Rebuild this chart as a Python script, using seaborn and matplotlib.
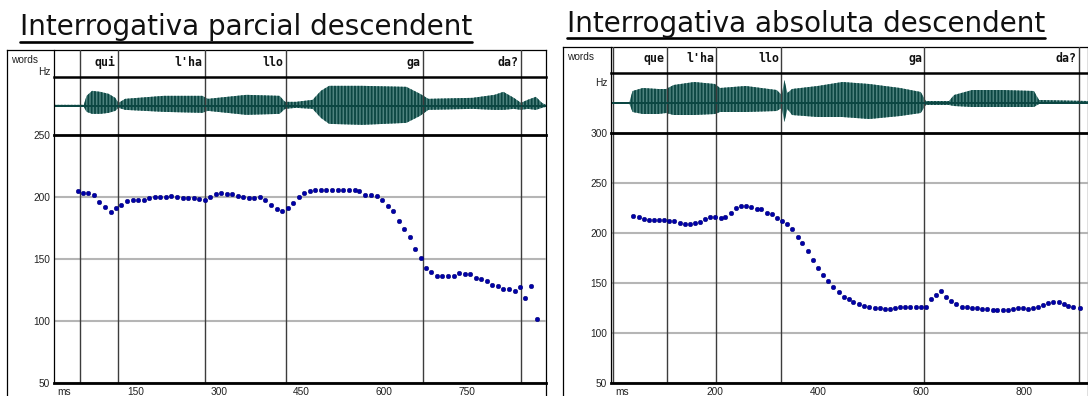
import matplotlib
matplotlib.use("Agg")
import seaborn as sns
import matplotlib.pyplot as plt
from matplotlib.lines import Line2D

# --- Interrogativa parcial descendent ---
parcial_title = "Interrogativa parcial descendent"
parcial_words = ["qui", "l'ha", "llo", "ga", "da?"]
parcial_bounds = [48, 117, 274, 422, 670, 848]
parcial_ms = [44, 54, 63, 73, 83, 93, 104, 114, 123, 134, 144, 154, 164, 174, 184, 194,
              204, 214, 224, 234, 244, 254, 264, 274, 284, 294, 304, 314, 324, 334, 344,
              354, 364, 374, 384, 394, 405, 415, 425, 435, 445, 455, 465, 475, 485, 495,
              506, 516, 526, 536, 546, 555, 565, 576, 586, 596, 606, 616, 626, 636, 646,
              656, 666, 675, 685, 695, 705, 716, 726, 736, 746, 756, 766, 776, 786, 796,
              806, 816, 827, 837, 846, 856, 866, 877]
parcial_hz = [204.6, 203.5, 203.5, 201.4, 196, 192, 188, 191, 194, 197, 198, 198, 198,
              199.5, 200.3, 200.3, 200.3, 201, 200.3, 199, 199, 199, 198.6, 198, 200,
              202.4, 203.2, 202.7, 202.4, 201, 200, 199, 199, 200.3, 198, 194, 190.5,
              189, 191.6, 195.4, 200.3, 203.5, 205, 206, 206, 206, 206, 206, 206, 206,
              206, 204.6, 202, 201.4, 200.5, 197.3, 193, 188.4, 181, 174, 168, 158, 151,
              143, 140, 136.8, 136.8, 136.8, 136.8, 139, 138, 138, 135, 133.7, 132, 129.5,
              128.4, 126.3, 125.8, 124.7, 127.4, 118.4, 128, 101.8]
parcial_ticks = [150, 300, 450, 600, 750]
parcial_wave_ms = [0, 55, 60, 70, 85, 100, 112, 118, 130, 200, 270, 280, 350, 410, 420,
                   440, 470, 485, 500, 560, 640, 665, 680, 760, 800, 816, 835, 848, 860,
                   875, 886, 893]
parcial_wave_up = [1, 1, 10, 15, 14, 12, 8, 3, 7, 10, 10, 7, 11, 10, 4, 4, 6, 15, 20, 20,
                   19, 12, 7, 8, 11, 14, 8, 3, 6, 9, 3, 1]
parcial_wave_dn = [1, 1, 6, 8, 8, 7, 5, 2, 4, 6, 7, 5, 9, 8, 3, 2, 3, 12, 18, 19, 17, 10,
                   4, 3, 4, 4, 3, 4, 3, 4, 2, 1]

# --- Interrogativa absoluta descendent ---
absoluta_title = "Interrogativa absoluta descendent"
absoluta_words = ["que", "l'ha", "llo", "ga", "da?"]
absoluta_bounds = [2.5, 107, 203, 329, 607, 908]
absoluta_ms = [41, 52, 62, 72, 82, 92, 102, 111, 120, 132, 142, 151, 161, 171, 181, 191,
               200, 211, 220, 231, 241, 251, 261, 271, 281, 290, 301, 311, 320, 331, 341,
               350, 361, 370, 381, 390, 400, 410, 420, 430, 441, 450, 460, 469, 480, 490,
               500, 511, 520, 530, 540, 550, 560, 570, 580, 590, 600, 610, 620, 630, 640,
               649, 659, 669, 680, 690, 700, 710, 720, 729, 740, 749, 760, 769, 779, 789,
               799, 809, 819, 828, 838, 848, 858, 868, 878, 887, 897, 910]
absoluta_hz = [217.8, 216.4, 214.8, 213.8, 213.8, 213.8, 213.8, 212.8, 212.8, 210.2,
               208.9, 208.9, 210.2, 211.8, 214.1, 216.4, 216.8, 215.5, 216.4, 220.4,
               225.3, 227.6, 227.6, 226.6, 224, 224, 220, 219.1, 215.1, 212.8, 209.2,
               204.3, 196.7, 190.1, 181.9, 173.6, 165.5, 157.9, 152.6, 146.4, 141.4,
               136.8, 133.9, 130.9, 128.9, 127.6, 126.3, 125.3, 125.3, 124.3, 124.3,
               125.3, 126.6, 126.6, 126.6, 126.6, 126.6, 126.6, 133.9, 138.8, 142.8,
               136.8, 131.9, 128.9, 126.6, 126.6, 125.3, 125.3, 124.3, 124.3, 123.7, 123,
               123, 123.7, 124.7, 125.3, 125.3, 124.7, 125.3, 126.6, 128, 129.9, 131.3,
               131.3, 128.9, 127.6, 126.3, 125.3]
absoluta_ticks = [200, 400, 600, 800]
absoluta_wave_ms = [0, 34, 40, 60, 90, 105, 120, 160, 200, 210, 260, 320, 330, 335, 341,
                    350, 400, 448, 500, 560, 600, 610, 655, 665, 700, 760, 820, 830, 925]
absoluta_wave_up = [1, 1, 12, 15, 14, 14, 18, 21, 19, 15, 17, 13, 8, 23, 10, 14, 17, 21,
                    19, 15, 11, 2, 2, 8, 13, 13, 12, 3, 2]
absoluta_wave_dn = [1, 1, 9, 11, 11, 10, 12, 12, 11, 9, 9, 8, 5, 19, 6, 12, 14, 14, 16,
                    13, 10, 2, 2, 3, 4, 4, 4, 1, 1]

W, H = 1088, 396
sns.set_style("white")
plt.rcParams["font.family"] = ["DejaVu Sans"]
plt.rcParams["hatch.linewidth"] = 1.3

fig = plt.figure(figsize=(W / 100, H / 100), dpi=100)
fig.patch.set_facecolor("white")

WAVE_COL = "#0b4642"
WAVE_LIGHT = "#4f837f"
DOT_COL = "#0000a8"
BOUND_COL = "#3c3c3c"
GRID_COL = "#b5b5b5"
SMALL = dict(family="Liberation Sans", fontsize=7.3, color="#222222")


def add_ax(x0, y0, x1, y1, z=1):
    ax = fig.add_axes([x0 / W, 1 - y1 / H, (x1 - x0) / W, (y1 - y0) / H], zorder=z)
    ax.set_facecolor("none")
    return ax


def bare(ax):
    ax.set_xticks([])
    ax.set_yticks([])
    for s in ax.spines.values():
        s.set_visible(False)


def draw_panel(title, title_xy, words, bounds, ms, hz, ticks, wave_ms, wave_up, wave_dn,
               frame_x, top, left, right, sep1, sep2, bottom, x0_ms, px_ms, ylim,
               hz_y):
    xlim = (x0_ms, x0_ms + (right - left) / px_ms)

    # title, underlined
    t = fig.text(title_xy[0] / W, 1 - title_xy[1] / H, title, fontsize=20,
                 va="baseline", ha="left", color="#111111")
    fig.canvas.draw()
    bb = t.get_window_extent()
    uy = title_xy[1] + 6.5
    fig.add_artist(Line2D([bb.x0 / W, bb.x1 / W], [1 - uy / H, 1 - uy / H],
                          transform=fig.transFigure, color="black", lw=1.9))

    # outer frame
    frame = add_ax(frame_x, top, right, H + 30, z=0)
    bare(frame)
    for s in ["top", "left", "right"]:
        frame.spines[s].set_visible(True)
        frame.spines[s].set_linewidth(0.9)
        frame.spines[s].set_color("black")
    fig.text((frame_x + 4) / W, 1 - (top + 10) / H, "words", va="center", ha="left", **SMALL)
    fig.text((left - 3) / W, 1 - hz_y / H, "Hz", va="center", ha="right", **SMALL)

    # words tier
    axw = add_ax(left, top, right, sep1, z=3)
    bare(axw)
    axw.set_xlim(*xlim)
    axw.set_ylim(0, 1)
    axw.spines["left"].set_visible(True)
    axw.spines["left"].set_linewidth(0.9)
    axw.spines["left"].set_color("black")
    axw.spines["bottom"].set_visible(True)
    axw.spines["bottom"].set_linewidth(1.8)
    axw.spines["bottom"].set_color("black")
    for b in bounds:
        axw.axvline(b, color=BOUND_COL, lw=1)
    for w, b in zip(words, bounds[1:]):
        axw.annotate(w, (b, 0.55), xytext=(-1.6, 0), textcoords="offset points",
                     ha="right", va="center", family="DejaVu Sans Mono",
                     fontweight="bold", fontsize=8.4, color="#111111")

    # waveform tier
    axv = add_ax(left, sep1, right, sep2, z=2)
    bare(axv)
    axv.set_xlim(*xlim)
    half = (sep2 - sep1) / 2
    axv.set_ylim(-half, half)
    axv.spines["left"].set_visible(True)
    axv.spines["left"].set_linewidth(0.9)
    axv.spines["left"].set_color("black")
    for b in bounds:
        axv.axvline(b, color=BOUND_COL, lw=1)
    axv.fill_between(wave_ms, [-d for d in wave_dn], wave_up, facecolor=WAVE_LIGHT,
                     edgecolor=WAVE_COL, hatch="|||||", lw=0)
    axv.plot(wave_ms, [0] * len(wave_ms), color=WAVE_COL, lw=1.4)

    # pitch tier
    axp = add_ax(left, sep2, right, bottom, z=2)
    sns.scatterplot(x=ms, y=hz, ax=axp, color=DOT_COL, s=11, marker="o",
                    edgecolor="#00006a", linewidth=0.3, zorder=5, legend=False)
    axp.set_xlim(*xlim)
    axp.set_ylim(*ylim)
    axp.set_yticks(list(range(ylim[0], ylim[1] + 1, 50)))
    axp.yaxis.grid(True, color=GRID_COL, lw=1.5)
    axp.xaxis.grid(False)
    axp.set_axisbelow(True)
    for b in bounds:
        axp.axvline(b, color=BOUND_COL, lw=1, zorder=2)
    for s in ["top", "bottom"]:
        axp.spines[s].set_linewidth(2.0)
        axp.spines[s].set_color("black")
    axp.spines["left"].set_linewidth(0.9)
    axp.spines["left"].set_color("black")
    axp.spines["right"].set_visible(False)
    axp.set_xticks(ticks)
    axp.set_xticklabels([str(v) for v in ticks])
    axp.tick_params(axis="x", direction="in", length=8, width=0.8, color="#a8a8a8",
                    pad=2.6, labelsize=7.3, labelcolor="#222222")
    axp.tick_params(axis="y", length=0, pad=2.5, labelsize=7.3, labelcolor="#222222")
    for lab in axp.get_xticklabels() + axp.get_yticklabels():
        lab.set_family("Liberation Sans")
    axp.set_xlabel("")
    axp.set_ylabel("")
    axp.annotate("ms", (0, 0), xycoords="axes fraction", xytext=(3, -2.6),
                 textcoords="offset points", ha="left", va="top", **SMALL)


draw_panel(parcial_title, (20, 35), parcial_words, parcial_bounds, parcial_ms,
           parcial_hz, parcial_ticks, parcial_wave_ms, parcial_wave_up, parcial_wave_dn,
           frame_x=7, top=50, left=53.5, right=546, sep1=76.7, sep2=135, bottom=383.3,
           x0_ms=0, px_ms=0.5513, ylim=(50, 250), hz_y=72)

draw_panel(absoluta_title, (567, 31.5), absoluta_words, absoluta_bounds, absoluta_ms,
           absoluta_hz, absoluta_ticks, absoluta_wave_ms, absoluta_wave_up,
           absoluta_wave_dn, frame_x=563.3, top=46.7, left=610.7, right=1087.5,
           sep1=72.7, sep2=133.3, bottom=383.3, x0_ms=-2.5, px_ms=0.5145,
           ylim=(50, 300), hz_y=83)

fig.savefig("out.png", dpi=100)
